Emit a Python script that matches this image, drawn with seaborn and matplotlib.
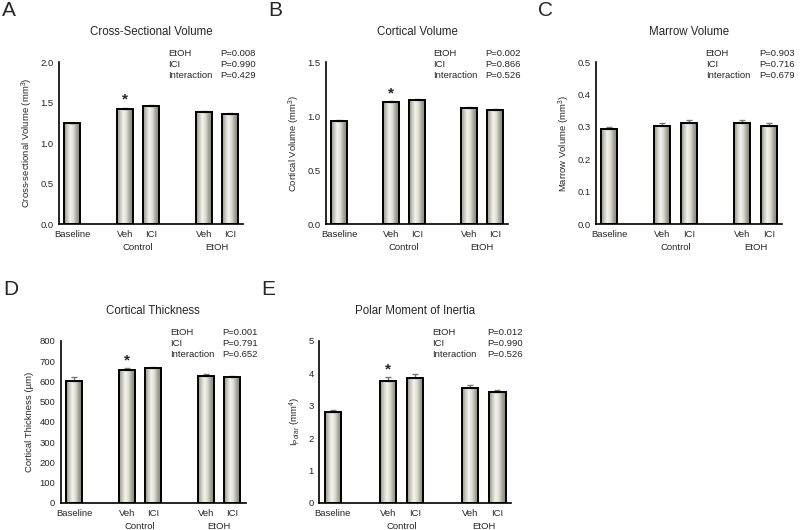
import numpy as np
import pandas as pd
import matplotlib
matplotlib.use("Agg")
import matplotlib.pyplot as plt
import seaborn as sns
from matplotlib.colors import LinearSegmentedColormap

# ---- data ----
conditions = ["Baseline", "Control Veh", "Control ICI", "EtOH Veh", "EtOH ICI"]
tick_names = ["Baseline", "Veh", "ICI", "Veh", "ICI"]
groups = ["Control", "EtOH"]

cross_vol = [1.245, 1.425, 1.453, 1.383, 1.362]
cross_err = [0.008, 0.012, 0.012, 0.012, 0.008]
cort_vol = [0.955, 1.128, 1.146, 1.075, 1.057]
cort_err = [0.008, 0.013, 0.012, 0.012, 0.008]
marrow_vol = [0.292, 0.302, 0.312, 0.312, 0.302]
marrow_err = [0.009, 0.009, 0.009, 0.009, 0.009]
cort_thick = [602, 657, 666, 627, 622]
thick_err = [20, 7, 7, 9, 5]
polar_mom = [2.81, 3.75, 3.86, 3.53, 3.41]
polar_err = [0.06, 0.12, 0.12, 0.12, 0.06]

stat_names = ["EtOH", "ICI", "Interaction"]
p_cross = ["P=0.008", "P=0.990", "P=0.429"]
p_cort = ["P=0.002", "P=0.866", "P=0.526"]
p_marrow = ["P=0.903", "P=0.716", "P=0.679"]
p_thick = ["P=0.001", "P=0.791", "P=0.652"]
p_polar = ["P=0.012", "P=0.990", "P=0.526"]

sns.set_style("white")
plt.rcParams["font.family"] = ["Liberation Sans", "DejaVu Sans"]
plt.rcParams["mathtext.fontset"] = "custom"
plt.rcParams["mathtext.rm"] = "Liberation Sans"

# slots with gaps between groups
order = ["Baseline", "_gap1", "Control Veh", "Control ICI", "_gap2", "EtOH Veh", "EtOH ICI"]
slot_labels = ["Baseline", "", "Veh", "ICI", "", "Veh", "ICI"]

bar_cmap = LinearSegmentedColormap.from_list(
    "cyl", ["#8f8f84", "#c9c9bf", "#f4f4ee", "#dcdcd3", "#a3a398", "#85857a"])
grad = np.linspace(0, 1, 64).reshape(1, -1)

fig = plt.figure(figsize=(8, 5.3), dpi=100)


def panel(rect, letter, title, ylabel, vals, errs, pvals, ymax, ystep, fmt, star=True):
    ax = fig.add_axes(rect)
    df = pd.DataFrame({"cond": conditions, "val": vals})
    sns.barplot(data=df, x="cond", y="val", order=order, width=0.6,
                color="white", edgecolor="black", linewidth=1.4, errorbar=None, ax=ax)
    for p in ax.patches:
        p.set_facecolor("none")
        p.set_zorder(2)
        x0, y0 = p.get_x(), p.get_y()
        im = ax.imshow(grad, cmap=bar_cmap, aspect="auto", zorder=1,
                       extent=[x0, x0 + p.get_width(), y0, y0 + p.get_height()])
        im.set_clip_path(p)
    xs = [order.index(c) for c in conditions]
    ax.errorbar(xs, vals, yerr=[np.zeros(len(errs)), errs], fmt="none",
                ecolor="#777777", elinewidth=1.0, capsize=2.3, capthick=1.0, zorder=1.5)
    if star:
        i = 1
        ax.text(xs[i], vals[i] + errs[i] + ymax * 0.005, "*", ha="center", va="bottom",
                fontsize=11, fontweight="bold")
    ax.set_xlim(-0.5, len(order) - 0.5)
    ax.set_ylim(0, ymax)
    ticks = np.arange(0, ymax + ystep / 2, ystep)
    ax.set_yticks(ticks)
    ax.set_yticklabels([fmt.format(t) for t in ticks], fontsize=6.8)
    ax.set_xticks(range(len(order)))
    ax.set_xticklabels(slot_labels, fontsize=6.8)
    ax.tick_params(axis="both", length=0, pad=4)
    ax.set_xlabel("")
    ax.set_ylabel(ylabel, fontsize=6.8, labelpad=4)
    for s in ["top", "right"]:
        ax.spines[s].set_visible(False)
    for s in ["left", "bottom"]:
        ax.spines[s].set_color("black")
        ax.spines[s].set_linewidth(1.2)
    # group labels under the Veh / ICI pairs
    for g in groups:
        pos = [order.index(c) for c in conditions if c.startswith(g)]
        ax.text(np.mean(pos), -0.115, g, transform=ax.get_xaxis_transform(),
                ha="center", va="top", fontsize=6.8)
    for k, (name, pv) in enumerate(zip(stat_names, pvals)):
        yy = 1.05 - k * 0.068
        ax.text(0.59, yy, name, transform=ax.transAxes, fontsize=6.8, va="center")
        ax.text(0.875, yy, pv, transform=ax.transAxes, fontsize=6.8, va="center")
    ax.text(0.5, 1.185, title, transform=ax.transAxes, ha="center", va="center", fontsize=8.3)
    bb = ax.get_position()
    fig.text(bb.x0 - 0.072, bb.y1 + 0.097, letter, fontsize=15, ha="left", va="center")
    return ax


top_b, bot_b, h = 0.577, 0.051, 0.306
panel([0.074, top_b, 0.23, h], "A", "Cross-Sectional Volume",
      "Cross-sectional Volume (mm$^3$)", cross_vol, cross_err, p_cross, 2.0, 0.5, "{:.1f}")
panel([0.4075, top_b, 0.2275, h], "B", "Cortical Volume",
      "Cortical Volume (mm$^3$)", cort_vol, cort_err, p_cort, 1.5, 0.5, "{:.1f}")
panel([0.745, top_b, 0.2325, h], "C", "Marrow Volume",
      "Marrow Volume (mm$^3$)", marrow_vol, marrow_err, p_marrow, 0.5, 0.1, "{:.1f}", star=False)
panel([0.076, bot_b, 0.231, h], "D", "Cortical Thickness",
      "Cortical Thickness (µm)", cort_thick, thick_err, p_thick, 800, 100, "{:.0f}")
panel([0.399, bot_b, 0.24, h], "E", "Polar Moment of Inertia",
      "I$_{\\mathrm{Polar}}$ (mm$^4$)", polar_mom, polar_err, p_polar, 5, 1, "{:.0f}")

fig.savefig("out.png", dpi=100, facecolor="white")
